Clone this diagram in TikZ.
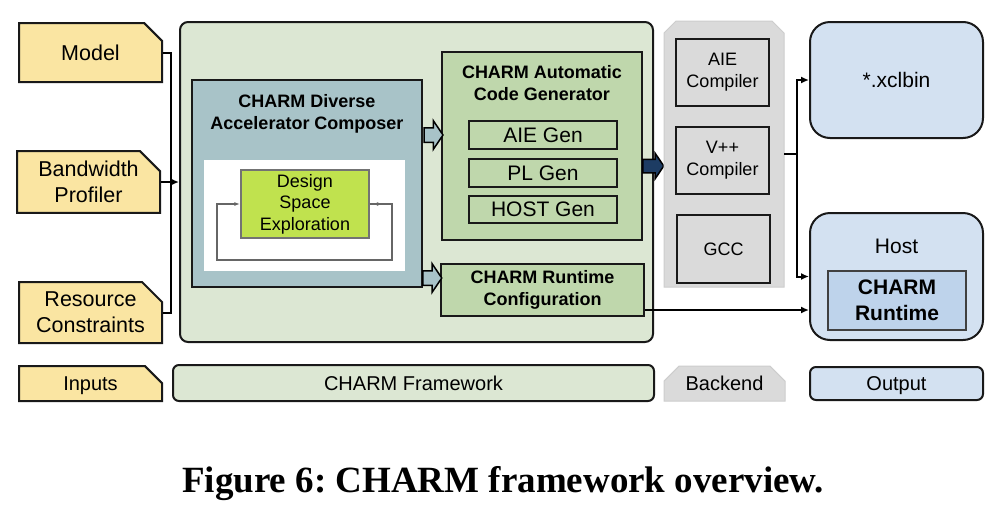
\documentclass[tikz,border=0pt]{standalone}
\usepackage{fontspec}
\setmainfont{Liberation Sans}
\newfontfamily\capfont{Liberation Serif}
\usetikzlibrary{arrows.meta,shapes.misc,shapes.arrows}
\definecolor{inyel}{HTML}{FAE5A2}
\definecolor{fwgreen}{HTML}{DCE7D3}
\definecolor{gengreen}{HTML}{BFD7AC}
\definecolor{dacblue}{HTML}{A8C3C8}
\definecolor{dselime}{HTML}{C0E24E}
\definecolor{begray}{HTML}{DADADA}
\definecolor{beline}{HTML}{CDCDCD}
\definecolor{outblue}{HTML}{D3E1F1}
\definecolor{rtblue}{HTML}{BED3EB}
\definecolor{darkarr}{HTML}{1D3C63}

\begin{document}
\begin{tikzpicture}[x=1pt,y=-1pt,
  box/.style={draw=black!90,line width=2pt,inner sep=0pt,align=center},
  inbox/.style={box,fill=inyel,chamfered rectangle,chamfered rectangle corners=north east,
    chamfered rectangle xsep=10pt,chamfered rectangle ysep=10pt,font=\fontsize{21.5}{26}\selectfont},
  genbox/.style={box,fill=gengreen,font=\fontsize{21}{25}\selectfont},
  ttl/.style={align=center,inner sep=0pt,font=\fontsize{18}{22}\selectfont\bfseries},
  bebox/.style={box,fill=begray,font=\fontsize{18}{22}\selectfont},
  outbox/.style={box,fill=outblue,rounded corners=20pt,font=\fontsize{21}{26}\selectfont},
  fatarrow/.style={single arrow,draw=black,line width=1.5pt,fill=dacblue,inner xsep=0pt,
    inner ysep=6.5pt,single arrow head extend=7pt,single arrow tip angle=112,minimum height=19pt,anchor=tail},
  conn/.style={draw=black,line width=2pt},
  tip/.style={-{Latex[length=8pt,width=7pt]}},
  loopline/.style={draw=black!60,line width=1.3pt},
  leg/.style={font=\fontsize{20}{24}\selectfont,text height=14.3pt,text depth=0pt}
]
   \useasboundingbox (0,0) rectangle (1004,504);
   % inputs
   \node[inbox,minimum width=143pt,minimum height=59pt] (model) at (90.5,52.5) {Model};
   \node[inbox,minimum width=143pt,minimum height=60pt] (bw) at (88.5,182) {Bandwidth\\Profiler};
   \node[inbox,minimum width=143pt,minimum height=61pt] (res) at (90.5,312.5) {Resource\\Constraints};

   % framework
   \node[box,fill=fwgreen,rounded corners=8pt,minimum width=473pt,minimum height=320pt] (fw) at (416.5,182) {};
   \node[box,fill=dacblue,line width=2.5pt,minimum width=230pt,minimum height=207pt] (dac) at (307,183.5) {};
   \node[ttl] (dactitle) at (307,114) {CHARM Diverse\\Accelerator Composer};
   \node[fill=white,minimum width=201pt,minimum height=111pt,inner sep=0pt] (white) at (304.5,215.5) {};
   \node[draw=black!55,line width=1.5pt,fill=dselime,minimum width=128pt,minimum height=68pt,inner sep=0pt,
     align=center,font=\fontsize{18}{21.5}\selectfont] (dse) at (305,204) {Design\\Space\\Exploration};
   \draw[loopline,-{Latex[length=6pt,width=4pt]}] (dse.east) -- ++(13,0);
   \draw[loopline,-{Latex[length=6pt,width=4pt]}] (dse.east) -- (392,204) |- (217,260) |- (dse.west);

   \node[genbox,line width=2.5pt,minimum width=200pt,minimum height=188pt] (acg) at (542,146) {};
   \node[ttl] (acgtitle) at (542,83.5) {CHARM Automatic\\Code Generator};
   \node[genbox,minimum width=148pt,minimum height=28pt] (aiegen) at (543,135) {AIE Gen};
   \node[genbox,minimum width=148pt,minimum height=28pt] (plgen) at (543,173) {PL Gen};
   \node[genbox,minimum width=148pt,minimum height=27pt] (hostgen) at (543,209.5) {HOST Gen};
   \node[box,fill=gengreen,minimum width=203pt,minimum height=52pt,font=\fontsize{18}{22}\selectfont\bfseries]
     (rtcfg) at (542.5,290) {CHARM Runtime\\Configuration};

   \node[fatarrow] (a1) at (dac.east |- aiegen) {};
   \node[fatarrow] (a2) at (422,278) {};
   \node[fatarrow,fill=darkarr,inner ysep=6pt,single arrow head extend=6pt,minimum height=21pt] (a3) at (642,166) {};

   % backend
   \node[minimum width=120pt,minimum height=266pt,inner sep=0pt,outer sep=0pt] (be) at (724,154) {};
   \draw[draw=beline,line width=1pt,fill=begray] (be.south west) -- ([yshift=-12pt]be.north west)
     -- ([xshift=12pt]be.north west) -- ([xshift=-12pt]be.north east) -- ([yshift=-12pt]be.north east)
     -- (be.south east) -- cycle;
   \node[bebox,minimum width=93pt,minimum height=67pt] (aiec) at (722.5,72.5) {AIE\\Compiler};
   \node[bebox,minimum width=93pt,minimum height=67pt] (vppc) at (722.5,160.5) {V++\\Compiler};
   \node[bebox,minimum width=93pt,minimum height=68pt] (gcc) at (723.5,249) {GCC};

   % outputs
   \node[outbox,minimum width=173pt,minimum height=116pt] (xclbin) at (896.5,80) {*.xclbin};
   \node[outbox,minimum width=173pt,minimum height=127pt] (host) at (896.5,276.5) {};
   \node[font=\fontsize{21}{26}\selectfont] (hosttitle) at (896.5,246) {Host};
   \node[draw=black!75,line width=1.3pt,fill=rtblue,minimum width=138pt,minimum height=59pt,inner sep=0pt,
     align=center,font=\fontsize{21}{26}\selectfont\bfseries] (rt) at (897,300.5) {CHARM\\Runtime};

   % connectors
   \coordinate (bus) at (171,182);
   \coordinate (split) at (797,154);
   \draw[conn] (model.east) -| (bus) |- (res.east);
   \draw[conn,tip] (bw.east) -- (fw.west);
   \draw[conn] (be.east) -- (split);
   \draw[conn,tip] (split) |- (xclbin.west);
   \draw[conn,tip] (split) |- (host.west);
   \draw[conn,tip] ([yshift=-20pt]rtcfg.east) -- ([yshift=-20pt]rtcfg.east -| host.west);

   % legend
   \node[inbox,leg,minimum width=143pt,minimum height=35pt] (inleg) at (90.5,383.5) {Inputs};
   \node[box,leg,fill=fwgreen,rounded corners=6pt,minimum width=481pt,minimum height=36pt] (fwleg) at (413.5,383) {CHARM Framework};
   \node[leg,draw=beline,line width=1pt,fill=begray,chamfered rectangle,chamfered rectangle corners={north west,north east},
     chamfered rectangle xsep=8pt,chamfered rectangle ysep=8pt,minimum width=121pt,minimum height=35pt,inner sep=0pt] (beleg) at (724.5,383.5) {Backend};
   \node[box,leg,fill=outblue,rounded corners=6pt,minimum width=173pt,minimum height=33pt] (outleg) at (896.5,383.5) {Output};

   \node[anchor=base,inner sep=0pt,font=\capfont\bfseries\fontsize{37}{40}\selectfont] (caption) at (503,492)
     {\frenchspacing Figure 6: CHARM framework overview.};
\end{tikzpicture}
\end{document}
